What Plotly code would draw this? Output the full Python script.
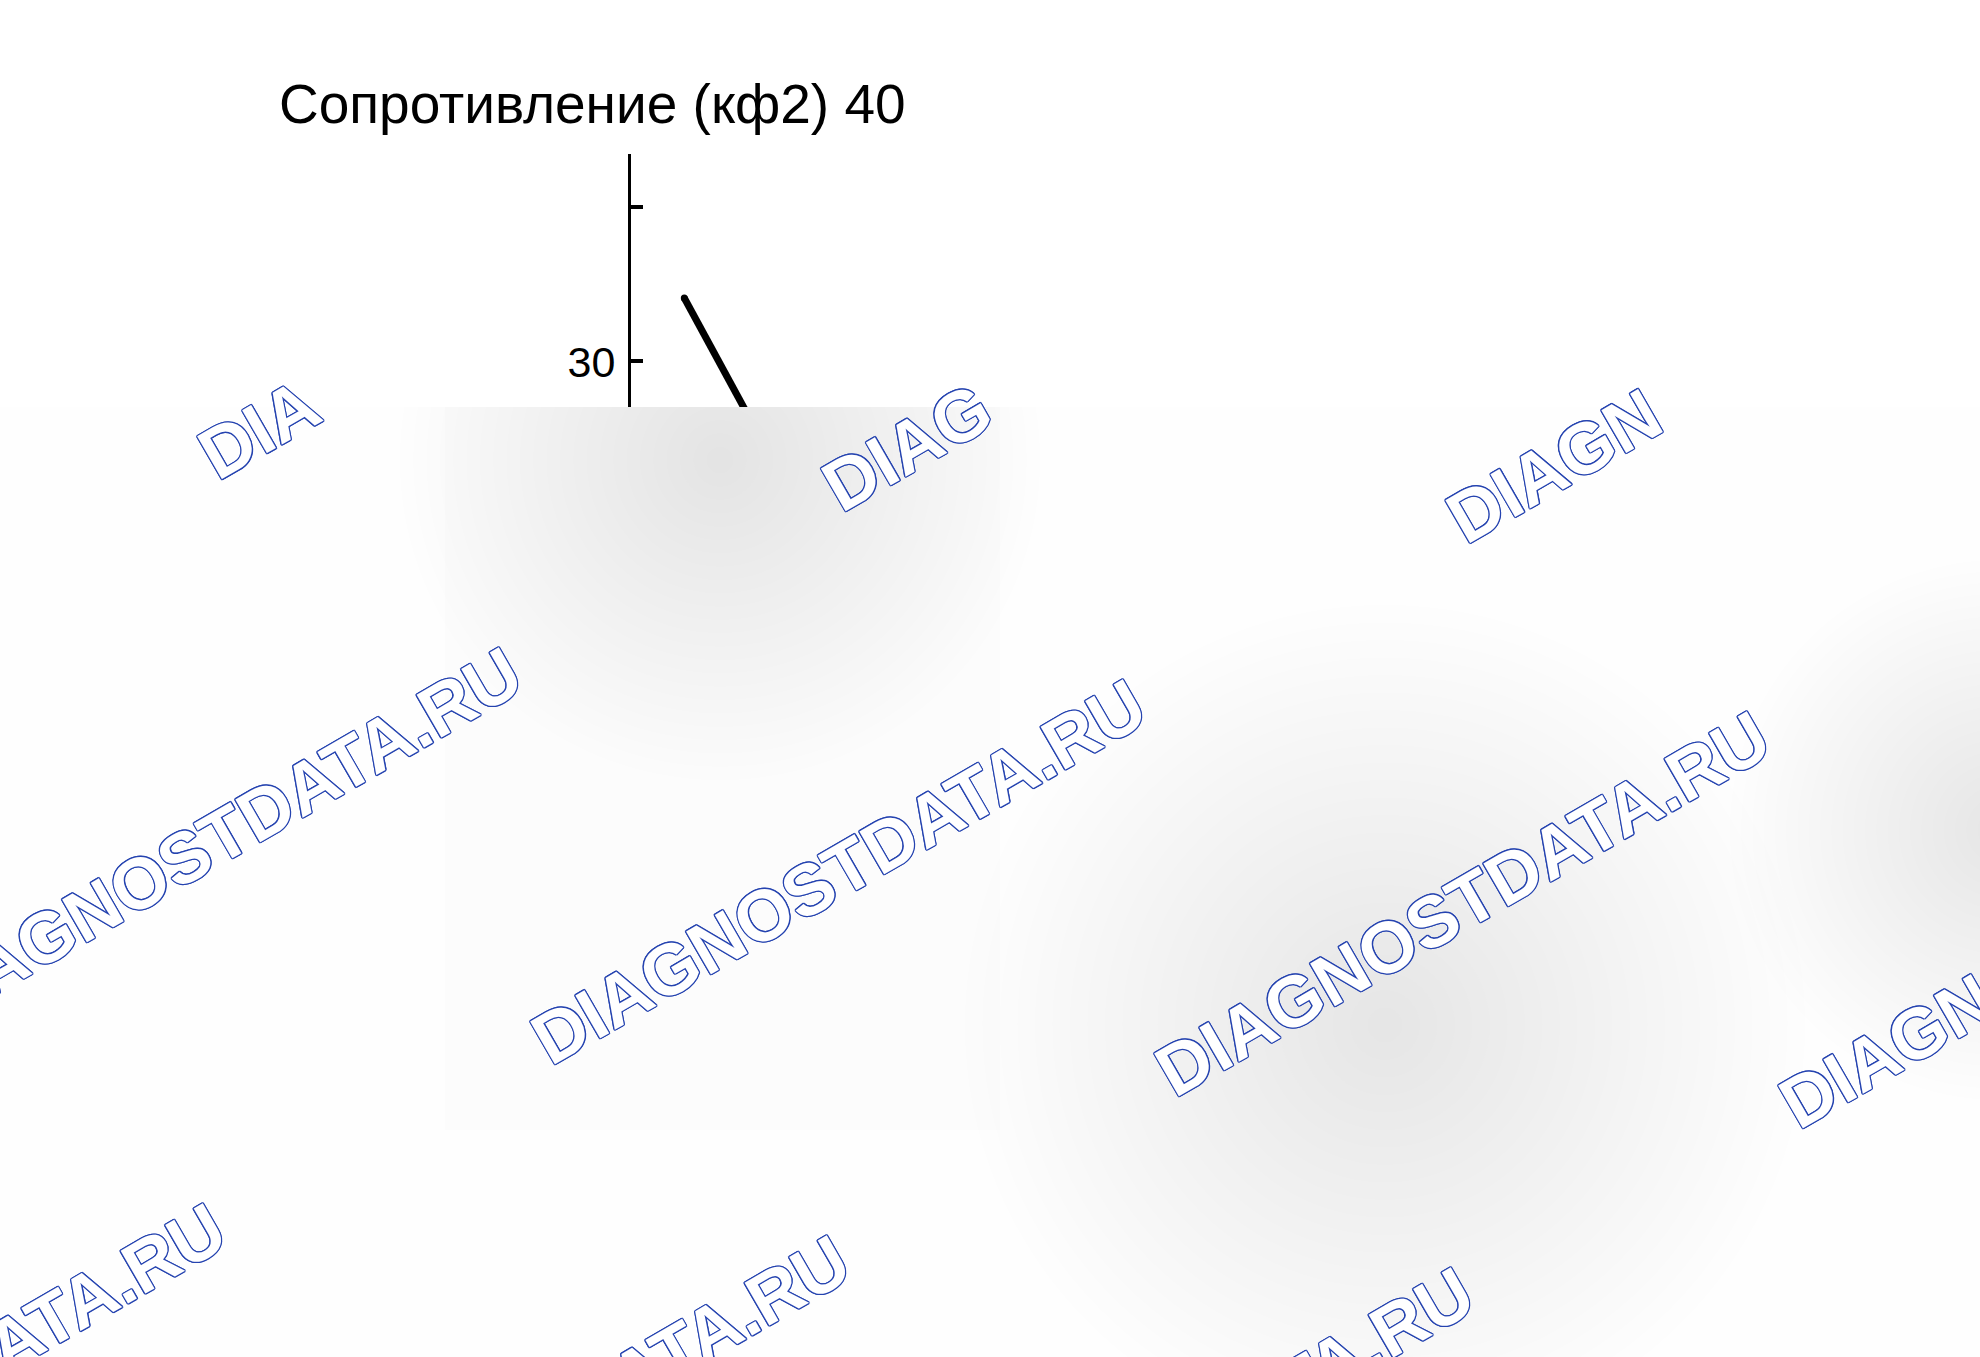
import math
import plotly.graph_objects as go

# ---------------- data ----------------
title_text = "Сопротивление (кф2) 40"
time_x = [4.2, 10.9]
resistance = [34.1, 24.0]
y_tickvals = [0, 10, 20, 30, 40]
y_ticktext = ["0", "10", "20", "30", ""]
x_range = [0, 100]
y_range = [0, 43.4]
watermark_text = "DIAGNOSTDATA.RU"

# ---------------- layout constants (pixels) ----------------
W, H = 1980, 1357
PLOT_L, PLOT_R, PLOT_T, PLOT_B = 631, 1900, 154, 826
COVER_TOP = 407          # top edge of the watermark sheet
WM_BLUE = "#2644b0"
WM_SIZE = 72
WM_ANGLE = 30.0

def fx(px):
    return px / W

def fy(py):
    return 1 - py / H

fig = go.Figure()

fig.add_trace(go.Scatter(
    x=time_x, y=resistance, mode="lines+markers",
    line=dict(color="black", width=7),
    marker=dict(color="black", size=7),
    xaxis="x", yaxis="y", showlegend=False, hoverinfo="skip",
))
# empty trace so the pixel-space overlay subplot exists
fig.add_trace(go.Scatter(x=[None], y=[None], xaxis="x2", yaxis="y2",
                         showlegend=False, hoverinfo="skip"))

axis_font = dict(family="Liberation Sans, Arial, sans-serif", size=43, color="black")

fig.update_layout(
    width=W, height=H, autosize=False,
    template="none",
    paper_bgcolor="white", plot_bgcolor="rgba(0,0,0,0)",
    margin=dict(l=0, r=0, t=0, b=0, pad=0),
    showlegend=False,
    title=dict(
        text=title_text, xref="container", yref="container",
        x=fx(279), xanchor="left", y=fy(104), yanchor="middle",
        font=dict(family="Liberation Sans, Arial, sans-serif", size=55, color="black"),
    ),
    xaxis=dict(
        domain=[fx(PLOT_L), fx(PLOT_R)], range=x_range, anchor="y",
        showline=True, linecolor="black", linewidth=3, ticks="inside",
        ticklen=12, tickwidth=3.5, tickcolor="black", showgrid=False,
        zeroline=False, tickfont=axis_font, automargin=False,
    ),
    yaxis=dict(
        domain=[fy(PLOT_B), fy(PLOT_T)], range=y_range, anchor="x",
        tickmode="array", tickvals=y_tickvals, ticktext=y_ticktext,
        showline=True, linecolor="black", linewidth=3, ticks="inside",
        ticklen=12, tickwidth=3.5, tickcolor="black", showgrid=False,
        zeroline=False, tickfont=axis_font, ticklabelstandoff=4,
        automargin=False,
    ),
    xaxis2=dict(domain=[0, 1], range=[0, W], anchor="y2", visible=False,
                fixedrange=True),
    yaxis2=dict(domain=[0, fy(COVER_TOP)], range=[H, COVER_TOP], anchor="x2",
                visible=False, fixedrange=True),
)

# ---------------- watermark sheet ----------------
shapes = []
shapes.append(dict(type="rect", xref="x2", yref="y2", x0=0, x1=W, y0=COVER_TOP, y1=H,
                   fillcolor="#fefefe", line=dict(width=0), layer="above"))
shapes.append(dict(type="rect", xref="x2", yref="y2", x0=445, x1=1000, y0=COVER_TOP, y1=1130,
                   fillcolor="rgba(150,150,150,0.02)", line=dict(width=0), layer="above"))

blobs = [
    # cx, cy, radius, total strength, rgb
    (720, 460, 320, 0.14, (128, 128, 128)),
    (810, 760, 260, 0.05, (128, 128, 128)),
    (1385, 1025, 420, 0.15, (128, 128, 128)),
    (2000, 830, 270, 0.15, (128, 128, 128)),
    (1260, 1210, 300, 0.06, (128, 128, 128)),
    (40, 1350, 280, 0.07, (150, 170, 235)),
]
N = 24
for cx, cy, r, strength, rgb in blobs:
    a = 1 - (1 - strength) ** (1.0 / N)
    for k in range(N):
        rr = r * (N - k) / N
        shapes.append(dict(type="circle", xref="x2", yref="y2",
                           x0=cx - rr, x1=cx + rr, y0=cy - rr, y1=cy + rr,
                           fillcolor="rgba(%d,%d,%d,%.4f)" % (rgb + (a,)),
                           line=dict(width=0), layer="above"))
fig.update_layout(shapes=shapes)

# watermark lattice (pixel centres)
A = (838, 872)
U = (624, 32)
V = (296, -556)
d = (math.cos(math.radians(WM_ANGLE)), -math.sin(math.radians(WM_ANGLE)))
EM = {"D": .722, "I": .278, "A": .722, "G": .778, "N": .722, "O": .778, "S": .667,
      "T": .611, ".": .278, "R": .722, "U": .722}
def width(s):
    return sum(EM[c] for c in s) * WM_SIZE

full_w = width(watermark_text)
marks = []
for i in (-1, 0, 1, 2):
    marks.append((A[0] + i * U[0], A[1] + i * U[1], watermark_text))
for i in (-1, 0, 1):
    marks.append((A[0] + i * U[0] - V[0], A[1] + i * U[1] - V[1], watermark_text))
# top row: only the letters below the sheet edge
for i, part in ((-1, "DIA"), (0, "DIAG"), (1, "DIAGN")):
    cx = A[0] + i * U[0] + V[0]
    cy = A[1] + i * U[1] + V[1]
    shift = (width(part) - full_w) / 2
    marks.append((cx + shift * d[0], cy + shift * d[1], part))

shadow = ", ".join("%gpx %gpx 0 %s" % (dx, dy, WM_BLUE)
                   for dx, dy in ((1.3, 0), (-1.3, 0), (0, 1.3), (0, -1.3),
                                  (1, 1), (-1, -1), (1, -1), (-1, 1)))
for cx, cy, txt in marks:
    fig.add_annotation(
        x=fx(cx), y=fy(cy), xref="paper", yref="paper",
        text="<b>%s</b>" % txt, showarrow=False, textangle=-WM_ANGLE,
        xanchor="center", yanchor="middle",
        font=dict(family="Liberation Sans, Arial, sans-serif", size=WM_SIZE,
                  color="white", weight="bold", shadow=shadow),
    )

fig.write_html("out.html", config={"displayModeBar": False},
               post_script="document.body.style.margin='0';document.body.style.overflow='hidden';")
